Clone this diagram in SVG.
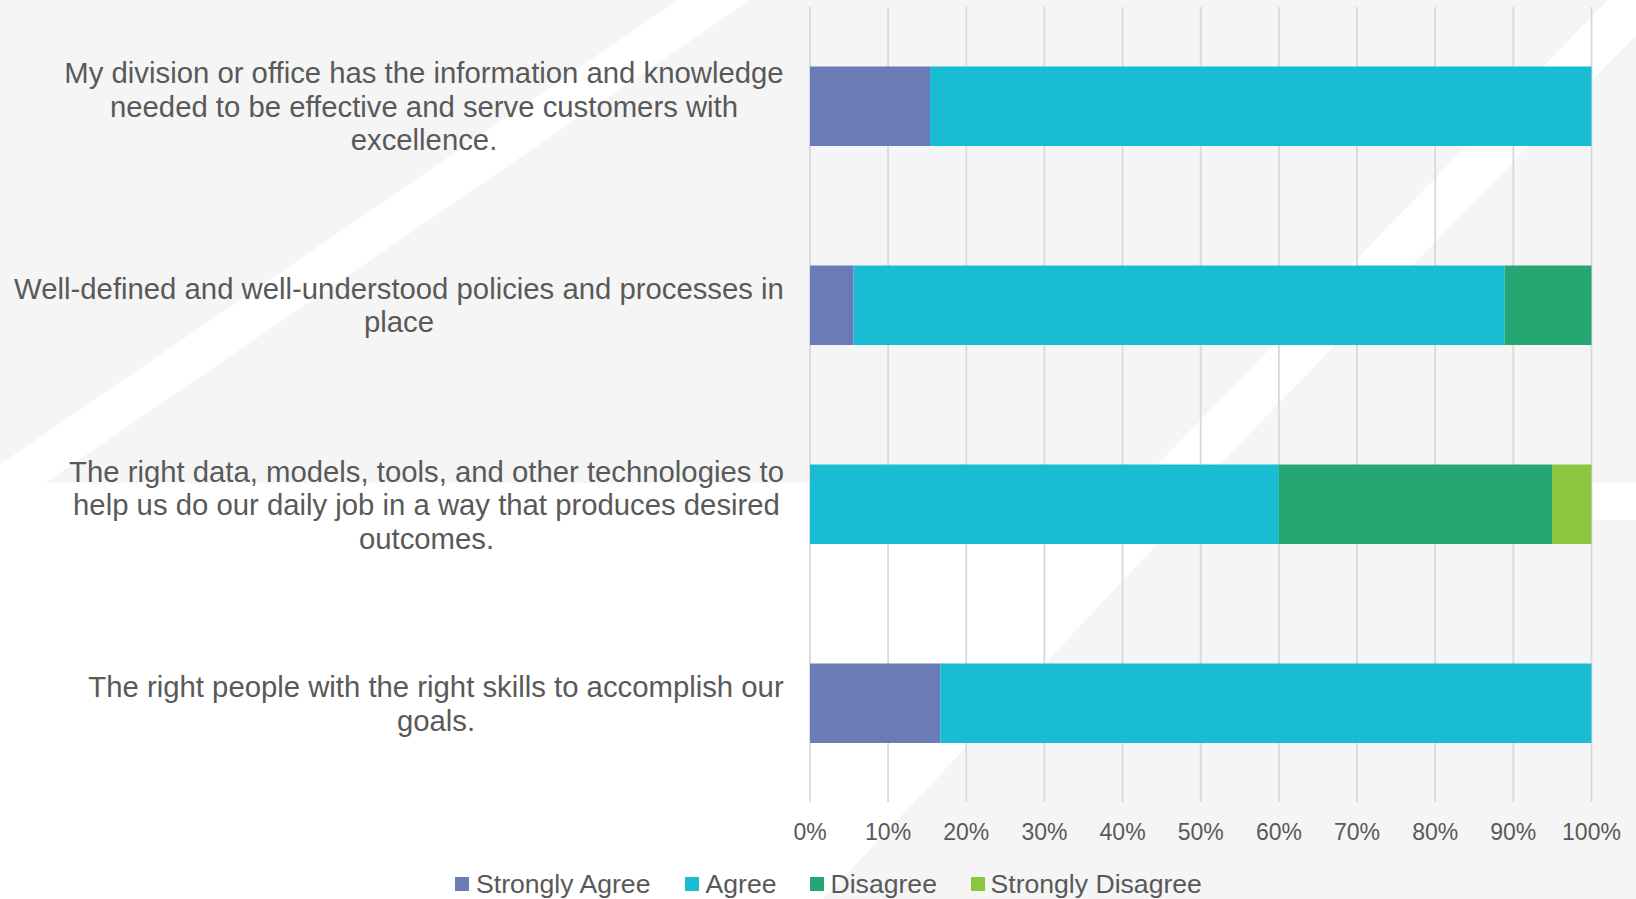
<svg xmlns="http://www.w3.org/2000/svg" width="1636" height="899" viewBox="0 0 1636 899">
<style>
.bg{fill:#f5f5f5}
.wh{fill:#ffffff}
.grid{stroke:#d9d9d9;stroke-width:1.8}
.lbl{font-family:"Liberation Sans",Arial,sans-serif;font-size:29.3px;fill:#595959;text-anchor:middle}
.ax{font-family:"Liberation Sans",Arial,sans-serif;font-size:23px;fill:#595959;text-anchor:middle}
.lg{font-family:"Liberation Sans",Arial,sans-serif;font-size:26.6px;fill:#595959}
.sa{fill:#6b7bb5}
.ag{fill:#19bcd3}
.di{fill:#26a672}
.sd{fill:#8cc63f}
</style>
<rect x="0" y="0" width="1636" height="899" fill="#ffffff"/>
<g id="background">
<rect class="bg" x="0" y="0" width="1636" height="483"/>
<polygon class="wh" points="678,0 750,0 45,483 -27,483"/>
<polygon class="wh" points="1608,0 1670,0 1201.5,483 1139.5,483"/>
<polygon class="bg" points="1180,520 1636,520 1636,899 823,899"/>
</g>
<g id="gridlines">
<line class="grid" x1="810" y1="7" x2="810" y2="802"/>
<line class="grid" x1="888.1" y1="7" x2="888.1" y2="802"/>
<line class="grid" x1="966.3" y1="7" x2="966.3" y2="802"/>
<line class="grid" x1="1044.4" y1="7" x2="1044.4" y2="802"/>
<line class="grid" x1="1122.6" y1="7" x2="1122.6" y2="802"/>
<line class="grid" x1="1200.7" y1="7" x2="1200.7" y2="802"/>
<line class="grid" x1="1278.9" y1="7" x2="1278.9" y2="802"/>
<line class="grid" x1="1357" y1="7" x2="1357" y2="802"/>
<line class="grid" x1="1435.2" y1="7" x2="1435.2" y2="802"/>
<line class="grid" x1="1513.3" y1="7" x2="1513.3" y2="802"/>
<line class="grid" x1="1591.5" y1="7" x2="1591.5" y2="802"/>
</g>
<g id="row1">
<text class="lbl" x="424" y="83">My division or office has the information and knowledge</text>
<text class="lbl" x="424" y="116.7">needed to be effective and serve customers with</text>
<text class="lbl" x="424" y="150.4">excellence.</text>
<rect class="sa" x="810" y="66.5" width="120" height="79.5"/>
<rect class="ag" x="930" y="66.5" width="661.5" height="79.5"/>
</g>
<g id="row2">
<text class="lbl" x="399" y="298.5">Well-defined and well-understood policies and processes in</text>
<text class="lbl" x="399" y="332.2">place</text>
<rect class="sa" x="810" y="265.5" width="43.5" height="79.5"/>
<rect class="ag" x="853.5" y="265.5" width="651.2" height="79.5"/>
<rect class="di" x="1504.7" y="265.5" width="86.8" height="79.5"/>
</g>
<g id="row3">
<text class="lbl" x="426.5" y="481.5">The right data, models, tools, and other technologies to</text>
<text class="lbl" x="426.5" y="515.2">help us do our daily job in a way that produces desired</text>
<text class="lbl" x="426.5" y="548.9">outcomes.</text>
<rect class="ag" x="810" y="464.5" width="468.8" height="79.5"/>
<rect class="di" x="1278.8" y="464.5" width="273.2" height="79.5"/>
<rect class="sd" x="1552" y="464.5" width="39.5" height="79.5"/>
</g>
<g id="row4">
<text class="lbl" x="436" y="697">The right people with the right skills to accomplish our</text>
<text class="lbl" x="436" y="730.7">goals.</text>
<rect class="sa" x="810" y="663.5" width="130.2" height="79.5"/>
<rect class="ag" x="940.2" y="663.5" width="651.3" height="79.5"/>
</g>
<g id="axis-labels">
<text class="ax" x="810" y="840">0%</text>
<text class="ax" x="888.1" y="840">10%</text>
<text class="ax" x="966.3" y="840">20%</text>
<text class="ax" x="1044.4" y="840">30%</text>
<text class="ax" x="1122.6" y="840">40%</text>
<text class="ax" x="1200.7" y="840">50%</text>
<text class="ax" x="1278.9" y="840">60%</text>
<text class="ax" x="1357" y="840">70%</text>
<text class="ax" x="1435.2" y="840">80%</text>
<text class="ax" x="1513.3" y="840">90%</text>
<text class="ax" x="1591.5" y="840">100%</text>
</g>
<g id="legend">
<rect class="sa" x="455" y="877" width="14" height="14"/>
<text class="lg" x="476" y="893">Strongly Agree</text>
<rect class="ag" x="685" y="877" width="14" height="14"/>
<text class="lg" x="705.5" y="893">Agree</text>
<rect class="di" x="810" y="877" width="14" height="14"/>
<text class="lg" x="830.5" y="893">Disagree</text>
<rect class="sd" x="971" y="877" width="14" height="14"/>
<text class="lg" x="990.5" y="893">Strongly Disagree</text>
</g>
<g id="connectors"></g>
</svg>
